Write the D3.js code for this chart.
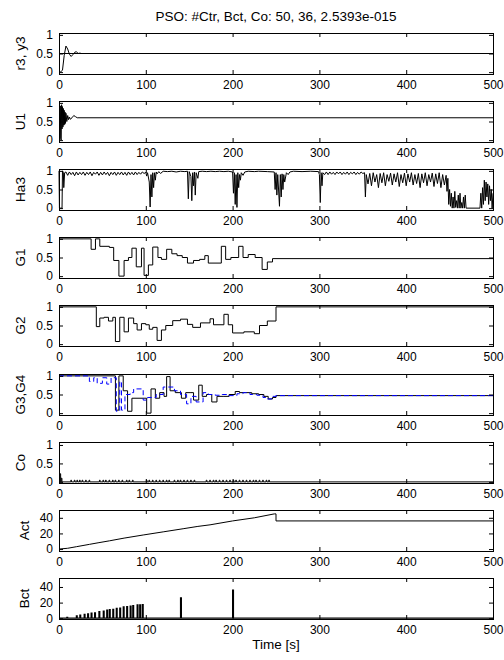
<!DOCTYPE html>
<html>
<head>
<meta charset="utf-8">
<script src="https://cdn.jsdelivr.net/npm/d3@7"></script>
<style>
  body { margin: 0; background: #fff; }
  svg text { font-family: 'Liberation Sans', Arial, Helvetica, sans-serif; fill: #000; }
</style>
</head>
<body>
<script>
// ---- values ----
const titleText = 'PSO: #Ctr, Bct, Co: 50, 36, 2.5393e-015';
const xLabelText = 'Time [s]';
const xTicks = [0, 100, 200, 300, 400, 500];
const unitTicks = [0, 0.5, 1];
const countTicks = [0, 20, 40];
const yLabels = ['r3, y3', 'U1', 'Ha3', 'G1', 'G2', 'G3,G4', 'Co', 'Act', 'Bct'];

// [time, value]
const r3 = [[0, 0.5], [500, 0.5]];
const y3 = [[0, 0], [2, 0.01], [4, 0.05], [6, 0.45], [8, 0.7], [10, 0.62], [12, 0.48], [14, 0.42],
  [16, 0.47], [18, 0.53], [20, 0.55], [22, 0.5], [24, 0.51], [26, 0.5], [500, 0.5]];

const u1 = [[0, 0], [1, 0.02], [1.5, 0.92], [2, 0.05], [2.5, 0], [3, 0.95], [3.5, 0.3], [4, 0.9],
  [4.5, 0.35], [5, 0.85], [5.5, 0.4], [6, 0.8], [6.5, 0.42], [7, 0.75], [7.5, 0.45], [8, 0.72],
  [9, 0.5], [10, 0.66], [11, 0.55], [12, 0.62], [13, 0.56], [15, 0.6], [17, 0.66], [19, 0.63],
  [21, 0.6], [500, 0.6]];

const ha3 = [[0, 1], [0.5, 0], [3.5, 0], [4, 1], [5, 0.96], [5.5, 0.55], [6.5, 0.95], [8, 0.97],
  [10, 0.88], [12, 0.97], [14, 0.9], [16, 0.96], [18, 0.87], [20, 0.97], [22, 0.89], [24, 0.96],
  [26, 0.9], [28, 0.97], [30, 0.88], [32, 0.96], [34, 0.9], [36, 0.97], [38, 0.87], [40, 0.96],
  [42, 0.91], [44, 0.97], [46, 0.88], [48, 0.96], [50, 0.89], [52, 0.97], [54, 0.9], [56, 0.96],
  [58, 0.87], [60, 0.96], [62, 0.9], [64, 0.97], [66, 0.88], [68, 0.96], [70, 0.9], [72, 0.97],
  [74, 0.89], [76, 0.96], [78, 0.88], [80, 0.97], [82, 0.9], [84, 0.96], [86, 0.89], [88, 0.97],
  [90, 0.9], [92, 0.96], [94, 0.91], [96, 0.97], [98, 0.93], [100, 0.96], [101, 0.86], [102, 0.95],
  [104, 0.7], [105, 0.03], [106, 0.9], [107, 0.3], [108, 0.95], [109, 0.55], [110, 0.95], [111, 0.75],
  [112, 0.97], [113, 0.92], [115, 0.98], [117, 0.93], [120, 0.99], [125, 0.98], [130, 0.99],
  [135, 0.97], [140, 0.99], [145, 0.98], [148, 0.99], [149, 0.25], [150, 0.98], [152, 0.85],
  [153, 0.2], [154, 0.95], [155, 0.6], [156, 0.97], [157, 0.35], [158, 0.95], [160, 0.8],
  [161, 0.98], [165, 0.99], [170, 0.98], [175, 0.99], [180, 0.98], [185, 0.99], [190, 0.98],
  [195, 0.99], [200, 0.97], [201, 0.4], [202, 0.95], [203, 0.1], [204, 0.9], [205, 0.02],
  [206, 0.95], [207, 0.55], [208, 0.9], [209, 0.75], [210, 0.95], [212, 0.88], [214, 0.97],
  [218, 0.99], [225, 0.98], [230, 0.99], [240, 0.98], [248, 0.97], [249, 0.5], [250, 0.95],
  [251, 0.35], [252, 0.9], [254, 0.05], [255, 0.9], [256, 0.3], [257, 0.92], [258, 0.5], [259, 0.9],
  [260, 0.7], [262, 0.95], [264, 0.9], [266, 0.97], [270, 0.99], [280, 0.98], [290, 0.99],
  [299, 0.98], [300, 0.9], [301, 0.15], [302, 0.95], [303, 0.6], [304, 0.95], [306, 0.9],
  [308, 0.97], [310, 0.9], [312, 0.97], [314, 0.91], [316, 0.96], [318, 0.9], [320, 0.97],
  [322, 0.92], [324, 0.97], [326, 0.9], [328, 0.96], [330, 0.91], [332, 0.97], [334, 0.9],
  [336, 0.96], [338, 0.92], [340, 0.97], [342, 0.9], [344, 0.96], [346, 0.91], [348, 0.97],
  [350, 0.93], [352, 0.95], [353, 0.3], [354, 0.9], [356, 0.65], [358, 0.93], [360, 0.6],
  [362, 0.95], [364, 0.7], [366, 0.9], [368, 0.55], [370, 0.93], [372, 0.68], [374, 0.95],
  [376, 0.6], [378, 0.9], [380, 0.72], [382, 0.94], [384, 0.62], [386, 0.92], [388, 0.7],
  [390, 0.95], [392, 0.58], [394, 0.9], [396, 0.68], [398, 0.94], [400, 0.6], [402, 0.92],
  [404, 0.7], [406, 0.95], [408, 0.62], [410, 0.9], [412, 0.66], [414, 0.93], [416, 0.55],
  [418, 0.92], [420, 0.68], [422, 0.95], [424, 0.6], [426, 0.9], [428, 0.7], [430, 0.94],
  [432, 0.58], [434, 0.92], [436, 0.66], [438, 0.95], [440, 0.55], [442, 0.9], [444, 0.62],
  [446, 0.88], [447, 0.45], [448, 0.8], [449, 0.1], [450, 0.5], [451, 0.05], [452, 0.4], [453, 0],
  [454, 0.3], [455, 0], [456, 0.45], [457, 0.02], [458, 0.2], [459, 0], [460, 0.35], [461, 0],
  [462, 0.4], [463, 0], [464, 0.15], [465, 0], [466, 0.3], [467, 0], [468, 0.35], [469, 0],
  [485, 0], [486, 0.4], [487, 0], [488, 0.55], [489, 0.1], [490, 0.75], [491, 0.2], [492, 0.7],
  [493, 0.3], [494, 0.65], [495, 0.1], [496, 0.6], [497, 0.2], [498, 0.5], [499, 0], [500, 0.4]];

// step signals: [start time, value]
const g1 = [[0, 1], [37, 0.72], [42, 1], [47, 0.8], [58, 0.77], [63, 0.42], [69, 0], [75, 0.42],
  [80, 0.5], [84, 0.75], [89, 0.25], [95, 0.75], [98, 0.02], [103, 0.3], [108, 0.78], [114, 0.5],
  [118, 0.45], [124, 0.72], [130, 0.6], [136, 0.55], [142, 0.5], [148, 0.35], [155, 0.42],
  [162, 0.45], [168, 0.55], [172, 0.35], [187, 0.8], [192, 0.45], [198, 0.5], [207, 0.8],
  [212, 0.5], [218, 0.58], [226, 0.5], [234, 0.18], [240, 0.38], [246, 0.47], [500, 0.47]];

const g2 = [[0, 1], [43, 0.47], [47, 0.7], [52, 0.72], [57, 0.62], [62, 0.72], [65, 0.07], [70, 0.72],
  [75, 0.33], [80, 0.7], [86, 0.55], [90, 0.38], [95, 0.55], [100, 0.52], [104, 0.4], [108, 0.45],
  [113, 0.1], [118, 0.38], [123, 0.5], [131, 0.63], [140, 0.67], [148, 0.53], [154, 0.45],
  [163, 0.57], [174, 0.68], [178, 0.52], [190, 0.8], [195, 0.52], [200, 0.3], [213, 0.33],
  [225, 0.28], [231, 0.5], [240, 0.62], [250, 1], [500, 1]];

const g3 = [[0, 1], [65, 0.08], [69, 1], [74, 0.6], [79, 0.05], [84, 0.4], [98, 0.4], [101, 0],
  [106, 0.65], [111, 0.4], [116, 0.55], [121, 0.45], [124, 0.98], [128, 0.6], [134, 0.55],
  [141, 0.4], [146, 0.55], [151, 0.55], [155, 0.35], [161, 0.75], [165, 0.45], [170, 0.5],
  [176, 0.3], [182, 0.45], [190, 0.45], [196, 0.5], [203, 0.58], [208, 0.55], [215, 0.55],
  [222, 0.52], [230, 0.5], [236, 0.45], [241, 0.38], [246, 0.42], [250, 0.47], [500, 0.47]];

const g4 = [[0, 1], [35, 0.85], [40, 0.95], [44, 0.8], [50, 0.95], [55, 0.78], [60, 0.95], [66, 0.05],
  [70, 0.85], [72, 0.08], [76, 0.5], [82, 0.55], [86, 0.65], [97, 0.35], [102, 0.42], [112, 0.5],
  [120, 0.7], [133, 0.6], [140, 0.5], [147, 0.25], [152, 0.45], [158, 0.3], [166, 0.55], [172, 0.5],
  [180, 0.48], [188, 0.5], [195, 0.47], [205, 0.52], [212, 0.55], [220, 0.5], [228, 0.48],
  [235, 0.42], [240, 0.38], [245, 0.45], [250, 0.47], [500, 0.47]];

// Co: two early spikes, then tiny blips
const coSpikes = [[1.5, 0.22], [3, 0.1]];
const coBlips = [14, 18, 21, 24, 27, 31, 35, 47, 51, 54, 58, 62, 65, 69, 73, 78, 81, 85, 101, 104,
  108, 112, 116, 120, 124, 127, 133, 137, 140, 144, 148, 152, 156, 170, 174, 178, 181, 185, 189,
  193, 197, 201, 204, 208, 212, 216, 220, 224, 227, 231, 235, 239, 242];
const coBlipHeight = 0.045;

const act = [[0, 0], [10, 1], [20, 3], [35, 6], [45, 8], [58, 10.5], [75, 14], [97, 18], [120, 22],
  [143, 26], [160, 29], [174, 31], [200, 36], [225, 40], [248, 45], [250, 45], [250, 36], [500, 36]];

const bct = [[9, 1], [20, 3], [24, 4], [29, 5], [33, 5.5], [37, 6.5], [41, 7], [46, 8.5], [51, 9],
  [55, 10.5], [58, 11], [62, 11.5], [66, 12.5], [70, 13], [74, 14.5], [78, 15], [82, 15.5],
  [85, 16], [90, 17], [93, 17], [96, 17.5], [140, 26], [200, 36]];

// ---- build plottable series ----
const coLine = [[0, 0]];
coSpikes.concat(coBlips.map(t => [t, coBlipHeight])).sort((a, b) => a[0] - b[0]).forEach(([t, v]) => {
  coLine.push([t - 0.4, 0], [t - 0.4, v], [t + 0.4, v], [t + 0.4, 0]);
});
coLine.push([500, 0]);

const bctLine = [[0, 0]];
bct.forEach(([t, v]) => bctLine.push([t, 0], [t, v], [t + 1, v], [t + 1, 0]));
bctLine.push([500, 0]);

const panels = [
  { domain: [-0.05, 1.05], ticks: unitTicks, lines: [{ d: r3 }, { d: y3 }] },
  { domain: [-0.05, 1.05], ticks: unitTicks, lines: [{ d: u1 }] },
  { domain: [-0.05, 1.05], ticks: unitTicks, lines: [{ d: ha3 }] },
  { domain: [-0.05, 1.05], ticks: unitTicks, lines: [{ d: g1, step: true }] },
  { domain: [-0.05, 1.05], ticks: unitTicks, lines: [{ d: g2, step: true }] },
  { domain: [-0.05, 1.05], ticks: unitTicks, lines: [{ d: g3, step: true }, { d: g4, step: true, color: '#0000ff', dash: '5,3' }] },
  { domain: [-0.03, 1.08], ticks: unitTicks, lines: [{ d: coLine }] },
  { domain: [-2.5, 50], ticks: countTicks, lines: [{ d: act }] },
  { domain: [-1, 51.5], ticks: countTicks, lines: [{ d: bctLine, w: 1.2 }] }
];

// ---- drawing ----
const width = 504, height = 660;
const left = 59, right = 493, firstTop = 33, step = 68.1, boxH = 41;

const svg = d3.select('body').append('svg')
  .attr('width', width)
  .attr('height', height);

const x = d3.scaleLinear().domain([0, 500]).range([left, right]);

panels.forEach((p, i) => {
  const top = Math.round(firstTop + i * step);
  const bottom = top + boxH;
  const y = d3.scaleLinear().domain(p.domain).range([bottom, top]);
  const g = svg.append('g');

  p.lines.forEach(l => {
    const line = d3.line()
      .x(d => x(d[0]))
      .y(d => y(d[1]))
      .curve(l.step ? d3.curveStepAfter : d3.curveLinear);
    g.append('path')
      .datum(l.d)
      .attr('d', line)
      .attr('fill', 'none')
      .attr('stroke', l.color || '#000')
      .attr('stroke-width', l.w || 1)
      .attr('stroke-dasharray', l.dash || null);
  });

  // box
  g.append('rect')
    .attr('x', left + 0.5).attr('y', top + 0.5)
    .attr('width', right - left).attr('height', boxH)
    .attr('fill', 'none').attr('stroke', '#000').attr('stroke-width', 1);

  const fmt = d => String(d);
  g.append('g').attr('transform', `translate(0,${bottom})`)
    .call(d3.axisBottom(x).tickValues(xTicks).tickSize(-4).tickPadding(6).tickFormat(fmt));
  g.append('g').attr('transform', `translate(0,${top})`)
    .call(d3.axisTop(x).tickValues(xTicks).tickSize(-4).tickFormat(''));
  const ly = g.append('g').attr('transform', `translate(${left},0)`)
    .call(d3.axisLeft(y).tickValues(p.ticks).tickSize(-4).tickPadding(6).tickFormat(fmt));
  g.append('g').attr('transform', `translate(${right},0)`)
    .call(d3.axisRight(y).tickValues(p.ticks).tickSize(-4).tickFormat(''));

  g.selectAll('.domain').remove();
  g.selectAll('.tick line').attr('stroke', '#000');
  g.selectAll('.tick text').attr('font-size', 12).attr('font-family', null).attr('fill', '#000');

  // y label, placed left of the widest tick label
  const tickLeft = d3.min(ly.selectAll('text').nodes(), n => n.getBBox().x) + left;
  g.append('text')
    .attr('transform', `translate(${tickLeft - 11},${(top + bottom) / 2}) rotate(-90)`)
    .attr('text-anchor', 'middle')
    .attr('font-size', 13.5)
    .text(yLabels[i]);
});

svg.append('text')
  .attr('x', (left + right) / 2).attr('y', 21)
  .attr('text-anchor', 'middle')
  .attr('font-size', 13.5)
  .text(titleText);

svg.append('text')
  .attr('x', (left + right) / 2).attr('y', 649)
  .attr('text-anchor', 'middle')
  .attr('font-size', 13.5)
  .text(xLabelText);
</script>
</body>
</html>
